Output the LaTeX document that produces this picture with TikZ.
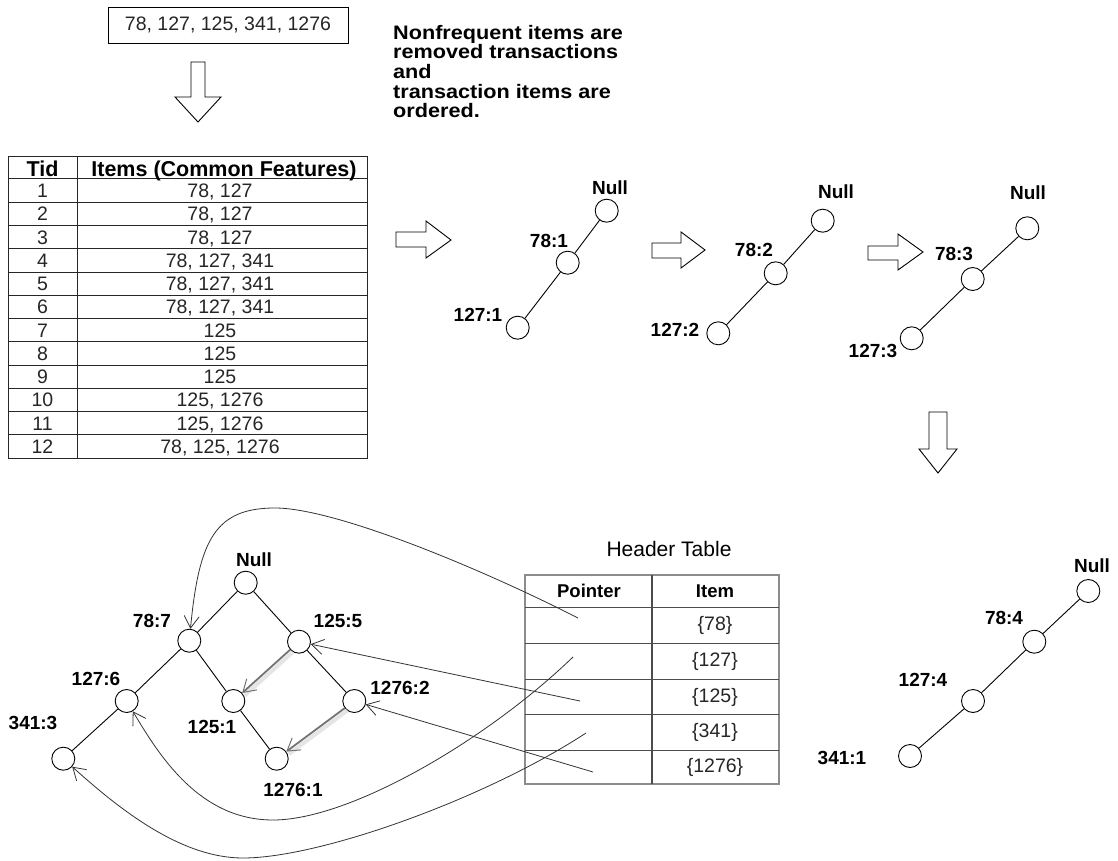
\documentclass[tikz,border=0pt]{standalone}
\usepackage{fontspec}
\setmainfont{Liberation Sans}
\usetikzlibrary{arrows.meta}
\newcommand\fsz[1]{\fontsize{#1}{#1}\selectfont}
\begin{document}
\begin{tikzpicture}[x=1pt,y=-1pt,
  tn/.style={circle,draw,minimum size=23pt,inner sep=0pt,line width=0.9pt},
  lb/.style={font=\bfseries\fsz{19},inner sep=0pt},
  ed/.style={line width=0.9pt},
  blk/.style={draw,line width=0.9pt,fill=white},
  ptr/.style={draw=black!80,line width=0.8pt,-{Straight Barb[length=12pt,width=15pt]}},
  lnk/.style={draw=black!55,line width=1.8pt,-{Straight Barb[length=12pt,width=15pt,line width=1pt]}},
  lnkshadow/.style={draw=black!10,line width=4pt,transform canvas={shift={(2.5pt,-2.5pt)}}},
  tx/.style={font=\fsz{19.5},text=black!85,inner sep=0pt},
  tb/.style={font=\fsz{19.5},text=black!85,inner sep=0pt,anchor=base},
  th/.style={font=\bfseries\fsz{21.5},inner sep=0pt,anchor=base},
  hh/.style={font=\bfseries\fsz{18.5},inner sep=0pt},
  grid/.style={line width=1pt,draw=black!85}
]
\useasboundingbox (0,0) rectangle (1118,861);

% ---------- top box and note ----------
\node[draw,line width=0.9pt,minimum width=240pt,minimum height=36pt,inner sep=0pt,font=\fsz{19.5},text=black!85] (box) at (228,25) {78, 127, 125, 341, 1276};
\node[anchor=north west,inner sep=0pt,font=\bfseries] (note) at (393,25)
  {\scalebox{1.11}[1]{\fontsize{19.5}{18.3}\selectfont\begin{tabular}{@{}l@{}}Nonfrequent items are\\removed transactions\\and\\transaction items are\\ordered.\end{tabular}}};

% ---------- block arrows ----------
\draw[blk] (191,62)--(205,62)--(205,97)--(221,97)--(198,122)--(175,97)--(191,97)--cycle;
\draw[blk] (396,232)--(426,232)--(426,221)--(451,240)--(426,258)--(426,247)--(396,247)--cycle;
\draw[blk] (652,243)--(681,243)--(681,232)--(705,250)--(681,268)--(681,258)--(652,258)--cycle;
\draw[blk] (868,246)--(898,246)--(898,234)--(923,252)--(898,270)--(898,260)--(868,260)--cycle;
\draw[blk] (929,412)--(947,412)--(947,449)--(957,449)--(938,473)--(919,449)--(929,449)--cycle;

% ---------- transaction table ----------
\draw[grid] (8,157) rectangle (367,458);
\draw[grid] (77,157) -- (77,458);
\foreach \k in {0,...,11} { \draw[grid] (8,179+23.25*\k) -- (367,179+23.25*\k); }
\node[th] (tidh) at (42.5,176) {Tid};
\node[th] (itmh) at (224,176) {Items (Common Features)};
\foreach \i/\t in {1/{78, 127},2/{78, 127},3/{78, 127},4/{78, 127, 341},5/{78, 127, 341},6/{78, 127, 341},7/{125},8/{125},9/{125},10/{125, 1276},11/{125, 1276},12/{78, 125, 1276}} {
  \node[tb] (tid\i) at (42.5,179+23.25*\i-4.6) {\i};
  \node[tb] (itm\i) at (220,179+23.25*\i-4.6) {\t};
}

% ---------- tree 1 ----------
\node[tn] (a0) at (606.7,210.7) {};
\node[tn] (a1) at (567.7,262.7) {};
\node[tn] (a2) at (517.7,327.7) {};
\node[lb] (la0) at (610,188) {Null};
\node[lb] (la1) at (549,241) {78:1};
\node[lb] (la2) at (478,315) {127:1};
\draw[ed] (a0) -- (a1); \draw[ed] (a1) -- (a2);

% ---------- tree 2 ----------
\node[tn] (b0) at (822.7,220.7) {};
\node[tn] (b1) at (775.7,273.3) {};
\node[tn] (b2) at (718.3,333.3) {};
\node[lb] (lb0) at (836,192) {Null};
\node[lb] (lb1) at (754,250) {78:2};
\node[lb] (lb2) at (675,330) {127:2};
\draw[ed] (b0) -- (b1); \draw[ed] (b1) -- (b2);

% ---------- tree 3 ----------
\node[tn] (c0) at (1027.3,228.3) {};
\node[tn] (c1) at (972.7,279) {};
\node[tn] (c2) at (911.7,338.3) {};
\node[lb] (lc0) at (1028,193) {Null};
\node[lb] (lc1) at (954,254) {78:3};
\node[lb] (lc2) at (873,351) {127:3};
\draw[ed] (c0) -- (c1); \draw[ed] (c1) -- (c2);

% ---------- tree 4 ----------
\node[tn] (d0) at (1088.3,591) {};
\node[tn] (d1) at (1034.3,641.7) {};
\node[tn] (d2) at (973,701) {};
\node[tn] (d3) at (910,756) {};
\node[lb] (ld0) at (1092,566) {Null};
\node[lb] (ld1) at (1004,618) {78:4};
\node[lb] (ld2) at (923,680) {127:4};
\node[lb] (ld3) at (842,758) {341:1};
\draw[ed] (d0) -- (d1); \draw[ed] (d1) -- (d2); \draw[ed] (d2) -- (d3);

% ---------- final tree ----------
\node[tn] (e0) at (245.7,582.7) {};
\node[tn] (e78) at (189.3,640.7) {};
\node[tn] (e1255) at (299,641.7) {};
\node[tn] (e127) at (126.7,701) {};
\node[tn] (e1251) at (233.3,701) {};
\node[tn] (e12762) at (354.3,701) {};
\node[tn] (e341) at (63.3,758.7) {};
\node[tn] (e12761) at (276.7,758.7) {};
\node[lb] (le0) at (254,560) {Null};
\node[lb] (le78) at (152,621) {78:7};
\node[lb] (le1255) at (338,621) {125:5};
\node[lb] (le127) at (96,679) {127:6};
\node[lb] (le1251) at (212,727) {125:1};
\node[lb] (le12762) at (400,688) {1276:2};
\node[lb] (le341) at (33,723) {341:3};
\node[lb] (le12761) at (293,790) {1276:1};
\draw[ed] (e0) -- (e78); \draw[ed] (e0) -- (e1255);
\draw[ed] (e78) -- (e127); \draw[ed] (e78) -- (e1251);
\draw[ed] (e127) -- (e341);
\draw[ed] (e1255) -- (e12762);
\draw[ed] (e1251) -- (e12761);
% node links
\draw[lnkshadow] (e1255) -- (e1251);
\draw[lnkshadow] (e12762) -- (e12761);
\draw[lnk] (e1255) -- (e1251);
\draw[lnk] (e12762) -- (e12761);

% ---------- header table ----------
\node[font=\fsz{21},inner sep=0pt] (htitle) at (669,549) {Header Table};
\draw[draw=black!45,line width=1.1pt] (525,575) rectangle (779,784);
\foreach \yy in {607,643,679,714,750} { \draw[draw=black!70,line width=1pt] (525,\yy) -- (779,\yy); }
\draw[draw=black!70,line width=1.8pt] (652,575) -- (652,784);
\node[hh] (hp) at (589,591) {Pointer};
\node[hh] (hi) at (715,591) {Item};
\node[tx] (h78) at (715,625) {\{78\}};
\node[tx] (h127) at (715,661) {\{127\}};
\node[tx] (h125) at (715,697) {\{125\}};
\node[tx] (h341) at (715,732) {\{341\}};
\node[tx] (h1276) at (715,767) {\{1276\}};
\coordinate (p78) at (578,618);
\coordinate (p127) at (573,657);
\coordinate (p125) at (580,701);
\coordinate (p341) at (586,733);
\coordinate (p1276) at (593,772);

% ---------- pointer links ----------
\draw[ptr] (p78) .. controls (480,568) and (335,508) .. (275,508) .. controls (215,508) and (199,540) .. (e78);
\draw[ptr] (p127) .. controls (487,740) and (350,820) .. (273,820) .. controls (200,820) and (160,757) .. (e127);
\draw[ptr] (p125) -- (e1255);
\draw[ptr] (p341) .. controls (485,799) and (320,858) .. (243,858) .. controls (180,858) and (118,808) .. (e341);
\draw[ptr] (p1276) -- (e12762);
\end{tikzpicture}
\end{document}
